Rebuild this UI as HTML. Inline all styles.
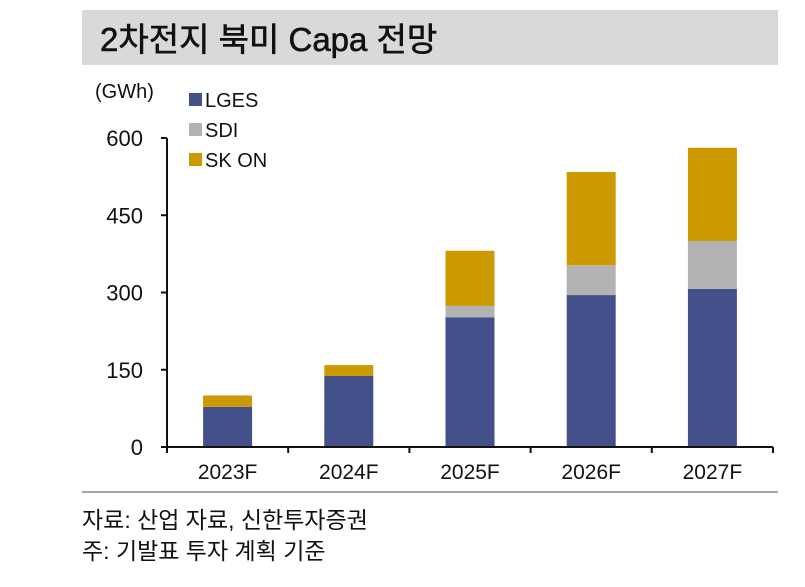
<!DOCTYPE html>
<html><head><meta charset="utf-8"><style>
body{margin:0;background:#fff;width:805px;height:582px;overflow:hidden;font-family:"Liberation Sans","Noto Sans CJK KR",sans-serif}
</style></head><body>
<svg width="805" height="582" style="font-family:'Liberation Sans','Noto Sans CJK KR',sans-serif">
<rect x="82" y="10" width="696" height="55" fill="#d9d9d9"/>
<text x="100" y="51" font-size="33" fill="#111" stroke="#111" stroke-width="0.6">2차전지 북미 Capa 전망</text>
<text x="95" y="98" font-size="20" fill="#111">(GWh)</text>
<g id="legend"></g>
<g id="plot"></g>
<line x1="82" y1="492" x2="778" y2="492" stroke="#a6a6a6" stroke-width="2"/>
<text x="82" y="528" font-size="23" fill="#111">자료: 산업 자료, 신한투자증권</text>
<text x="82" y="559" font-size="23" fill="#111">주: 기발표 투자 계획 기준</text>
</svg>
<script>
const categories=["2023F","2024F","2025F","2026F","2027F"];
const lges=[78,138,252,295,307];
const sdi=[0,0,22,58,93];
const skon=[22,21,107,181,181];
const yTicks=[0,150,300,450,600];
const seriesNames=["LGES","SDI","SK ON"];
const colors=["#43508a","#b3b3b3","#cc9900"];
const NS="http://www.w3.org/2000/svg";
const x0=167,x1=773,yb=447,yt=138,ymax=600;
const y=v=>yb-(v/ymax)*(yb-yt);
const bw=(x1-x0)/categories.length;
const cx=i=>x0+bw*(i+0.5);
function mk(tag,attrs,parent){const e=document.createElementNS(NS,tag);for(const k in attrs)e.setAttribute(k,attrs[k]);parent.appendChild(e);return e;}
const plot=document.getElementById('plot');
const series=[lges,sdi,skon];
categories.forEach((c,i)=>{
  let base=0;
  series.forEach((s,j)=>{
    const r=mk('rect',{x:cx(i)-24.5,y:y(base+s[i]),width:49,height:y(base)-y(base+s[i]),fill:colors[j]},plot);
    
    
    base+=s[i];
  });
  const t=mk('text',{x:cx(i),y:479,'font-size':21,'text-anchor':'middle',fill:'#111'},plot);
  t.textContent=c;
  
  
});
const ya=mk('line',{x1:x0,y1:yt,x2:x0,y2:yb,stroke:'#111','stroke-width':2},plot);


const xa=mk('line',{x1:x0,y1:yb,x2:x1,y2:yb,stroke:'#111','stroke-width':2},plot);


for(let i=0;i<=categories.length;i++){
  const tk=mk('line',{x1:x0+bw*i,y1:yb,x2:x0+bw*i,y2:yb+6,stroke:'#111','stroke-width':2},plot);
  
  
}
yTicks.forEach(v=>{
  const tk=mk('line',{x1:x0-6,y1:y(v),x2:x0,y2:y(v),stroke:'#111','stroke-width':2},plot);
  
  
  const t=mk('text',{x:143,y:y(v)+8,'font-size':22,'text-anchor':'end',fill:'#111'},plot);
  t.textContent=v;
  
  
});
const lg=document.getElementById('legend');
seriesNames.forEach((n,j)=>{
  const r=mk('rect',{x:189,y:93+j*30,width:13,height:13,fill:colors[j]},lg);
  
  
  const t=mk('text',{x:205,y:107+j*30,'font-size':20,fill:'#111'},lg);
  t.textContent=n;
  
  
});
</script>
</body></html>
